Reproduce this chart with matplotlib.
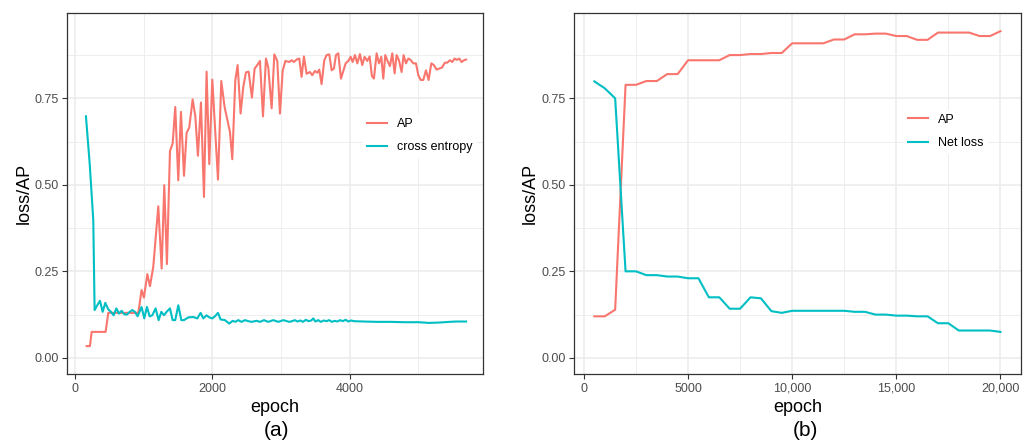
import matplotlib
matplotlib.use("Agg")
import matplotlib.pyplot as plt
from matplotlib.ticker import FixedLocator, FuncFormatter

plt.rcParams["font.family"] = ["Liberation Sans", "DejaVu Sans"]

RED = "#F8766D"
CYAN = "#00BFC4"

# (a) AP and cross entropy over epochs
ap_a_epoch = [170, 218, 243, 446, 485, 922, 970, 1004, 1053, 1092, 1140, 1213, 1262, 1300,
              1339, 1383, 1422, 1460, 1504, 1543, 1587, 1625, 1664, 1713, 1752, 1790, 1834,
              1878, 1916, 1955, 1999, 2082, 2130, 2178, 2256, 2290, 2334, 2368, 2411, 2450,
              2489, 2528, 2576, 2615, 2654, 2693, 2737, 2780, 2814, 2863, 2902, 2945, 2984,
              3023, 3062, 3120, 3154, 3188, 3226, 3265, 3299, 3333, 3372, 3420, 3454, 3493,
              3527, 3556, 3590, 3629, 3663, 3702, 3736, 3770, 3799, 3833, 3872, 3906, 3940,
              3979, 4013, 4042, 4076, 4110, 4148, 4182, 4216, 4255, 4289, 4323, 4352, 4391,
              4425, 4459, 4488, 4517, 4546, 4585, 4619, 4653, 4682, 4716, 4755, 4784, 4818,
              4852, 4886, 4925, 4964, 4998, 5032, 5070, 5109, 5148, 5187, 5225, 5264, 5303,
              5342, 5385, 5419, 5458, 5492, 5526, 5560, 5594, 5628, 5662, 5693]
ap_a = [0.034, 0.034, 0.075, 0.075, 0.130, 0.130, 0.196, 0.174, 0.242, 0.207, 0.263, 0.438,
        0.258, 0.499, 0.271, 0.598, 0.619, 0.725, 0.513, 0.711, 0.526, 0.650, 0.666, 0.747,
        0.698, 0.584, 0.738, 0.465, 0.827, 0.560, 0.804, 0.515, 0.800, 0.725, 0.653, 0.574,
        0.802, 0.846, 0.706, 0.783, 0.825, 0.827, 0.752, 0.836, 0.846, 0.858, 0.698, 0.865,
        0.839, 0.721, 0.877, 0.858, 0.706, 0.829, 0.858, 0.855, 0.860, 0.855, 0.862, 0.865,
        0.812, 0.871, 0.821, 0.826, 0.817, 0.829, 0.824, 0.833, 0.791, 0.860, 0.875, 0.877,
        0.831, 0.836, 0.875, 0.880, 0.807, 0.829, 0.851, 0.858, 0.870, 0.855, 0.875, 0.851,
        0.878, 0.846, 0.870, 0.858, 0.871, 0.814, 0.807, 0.880, 0.851, 0.870, 0.807, 0.875,
        0.860, 0.843, 0.880, 0.822, 0.875, 0.860, 0.826, 0.875, 0.851, 0.865, 0.861, 0.851,
        0.851, 0.817, 0.803, 0.803, 0.831, 0.803, 0.851, 0.846, 0.833, 0.836, 0.839, 0.853,
        0.853, 0.860, 0.855, 0.865, 0.861, 0.865, 0.855, 0.860, 0.862]

ce_epoch = [160, 215, 267, 286, 325, 364, 403, 442, 485, 524, 563, 602, 641, 679, 718, 757,
            796, 835, 873, 912, 970, 1009, 1048, 1087, 1126, 1174, 1218, 1257, 1296, 1334,
            1383, 1422, 1460, 1504, 1548, 1587, 1650, 1722, 1781, 1829, 1868, 1916, 1955,
            1999, 2038, 2082, 2120, 2183, 2246, 2295, 2334, 2377, 2426, 2474, 2523, 2571,
            2644, 2693, 2751, 2814, 2887, 2960, 3032, 3120, 3160, 3200, 3240, 3280, 3320,
            3360, 3400, 3440, 3469, 3500, 3540, 3580, 3620, 3660, 3700, 3740, 3780, 3820,
            3860, 3900, 3940, 3980, 4020, 4060, 4200, 4400, 4600, 4800, 5000, 5150, 5300,
            5450, 5550, 5693]
ce = [0.698, 0.560, 0.397, 0.138, 0.152, 0.165, 0.133, 0.159, 0.140, 0.133, 0.123, 0.143,
      0.128, 0.136, 0.126, 0.125, 0.133, 0.138, 0.133, 0.120, 0.147, 0.114, 0.147, 0.120,
      0.123, 0.143, 0.109, 0.133, 0.123, 0.133, 0.143, 0.109, 0.109, 0.152, 0.109, 0.109,
      0.117, 0.118, 0.114, 0.130, 0.114, 0.123, 0.117, 0.114, 0.120, 0.130, 0.111, 0.109,
      0.099, 0.107, 0.104, 0.109, 0.104, 0.109, 0.106, 0.104, 0.107, 0.104, 0.109, 0.104,
      0.109, 0.104, 0.109, 0.104, 0.106, 0.109, 0.105, 0.108, 0.104, 0.110, 0.106, 0.108,
      0.114, 0.105, 0.109, 0.104, 0.108, 0.106, 0.109, 0.104, 0.107, 0.105, 0.109, 0.106,
      0.110, 0.105, 0.108, 0.106, 0.105, 0.104, 0.104, 0.103, 0.103, 0.101, 0.102, 0.104,
      0.105, 0.105]

# (b) AP and net loss, one value every 500 epochs
epoch_b = list(range(500, 20001, 500))
ap_b = [0.120, 0.120, 0.139, 0.789, 0.789, 0.800, 0.800, 0.820, 0.820, 0.860, 0.860, 0.860,
        0.860, 0.875, 0.875, 0.878, 0.878, 0.881, 0.881, 0.909, 0.909, 0.909, 0.909, 0.920,
        0.920, 0.935, 0.935, 0.937, 0.937, 0.930, 0.930, 0.919, 0.919, 0.940, 0.940, 0.940,
        0.940, 0.930, 0.930, 0.944]
net_loss = [0.799, 0.779, 0.750, 0.250, 0.250, 0.239, 0.239, 0.235, 0.235, 0.230, 0.230,
            0.175, 0.175, 0.142, 0.142, 0.175, 0.172, 0.135, 0.130, 0.136, 0.136, 0.136,
            0.136, 0.136, 0.136, 0.133, 0.133, 0.125, 0.125, 0.122, 0.122, 0.120, 0.120,
            0.100, 0.100, 0.079, 0.079, 0.079, 0.079, 0.075]

y_ticks = [0.0, 0.25, 0.5, 0.75]
y_minor = [0.125, 0.375, 0.625, 0.875]


def style_axis(ax, xmajor, xminor, xfmt):
    ax.set_ylim(-0.0475, 0.9975)
    ax.yaxis.set_major_locator(FixedLocator(y_ticks))
    ax.yaxis.set_minor_locator(FixedLocator(y_minor))
    ax.xaxis.set_major_locator(FixedLocator(xmajor))
    ax.xaxis.set_minor_locator(FixedLocator(xminor))
    ax.xaxis.set_major_formatter(FuncFormatter(xfmt))
    ax.yaxis.set_major_formatter(FuncFormatter(lambda v, p: f"{v:.2f}"))
    ax.grid(True, which="major", color="#EBEBEB", linewidth=1.1)
    ax.grid(True, which="minor", color="#EBEBEB", linewidth=0.6)
    ax.set_axisbelow(True)
    for s in ax.spines.values():
        s.set_color("#333333")
        s.set_linewidth(0.9)
    ax.tick_params(which="major", length=3.5, width=0.8, color="#333333",
                   labelsize=9, labelcolor="#4D4D4D", pad=2.5)
    ax.tick_params(which="minor", length=0)
    ax.set_xlabel("epoch", fontsize=13, labelpad=3)
    ax.set_ylabel("loss/AP", fontsize=13, labelpad=1.5)


fig = plt.figure(figsize=(10.3, 4.45), dpi=100)

ax1 = fig.add_axes([0.0653, 0.1589, 0.4036, 0.8126])
ax1.plot(ap_a_epoch, ap_a, color=RED, lw=1.5, label="AP")
ax1.plot(ce_epoch, ce, color=CYAN, lw=1.5, label="cross entropy")
ax1.set_xlim(-112, 5939)
style_axis(ax1, [0, 2000, 4000], [1000, 3000, 5000], lambda v, p: f"{int(v)}")
ax1.legend(loc="center left", bbox_to_anchor=(0.711, 0.66), frameon=True, fancybox=False,
           edgecolor="white", facecolor="white", framealpha=1, fontsize=9,
           handlelength=1.6, handletextpad=0.8, labelspacing=0.9, borderpad=0.3,
           borderaxespad=0)

ax2 = fig.add_axes([0.5573, 0.1589, 0.4337, 0.8126])
ax2.plot(epoch_b, ap_b, color=RED, lw=1.5, label="AP")
ax2.plot(epoch_b, net_loss, color=CYAN, lw=1.5, label="Net loss")
ax2.set_xlim(-475, 20975)
style_axis(ax2, [0, 5000, 10000, 15000, 20000], [2500, 7500, 12500, 17500],
           lambda v, p: f"{int(v):,}" if v >= 10000 else f"{int(v)}")
ax2.legend(loc="center left", bbox_to_anchor=(0.739, 0.672), frameon=True, fancybox=False,
           edgecolor="white", facecolor="white", framealpha=1, fontsize=9,
           handlelength=1.6, handletextpad=0.8, labelspacing=0.9, borderpad=0.3,
           borderaxespad=0)

fig.text(0.2689, 0.033, "(a)", ha="center", va="center", fontsize=15)
fig.text(0.7816, 0.033, "(b)", ha="center", va="center", fontsize=15)

fig.savefig("out.png", dpi=100)
